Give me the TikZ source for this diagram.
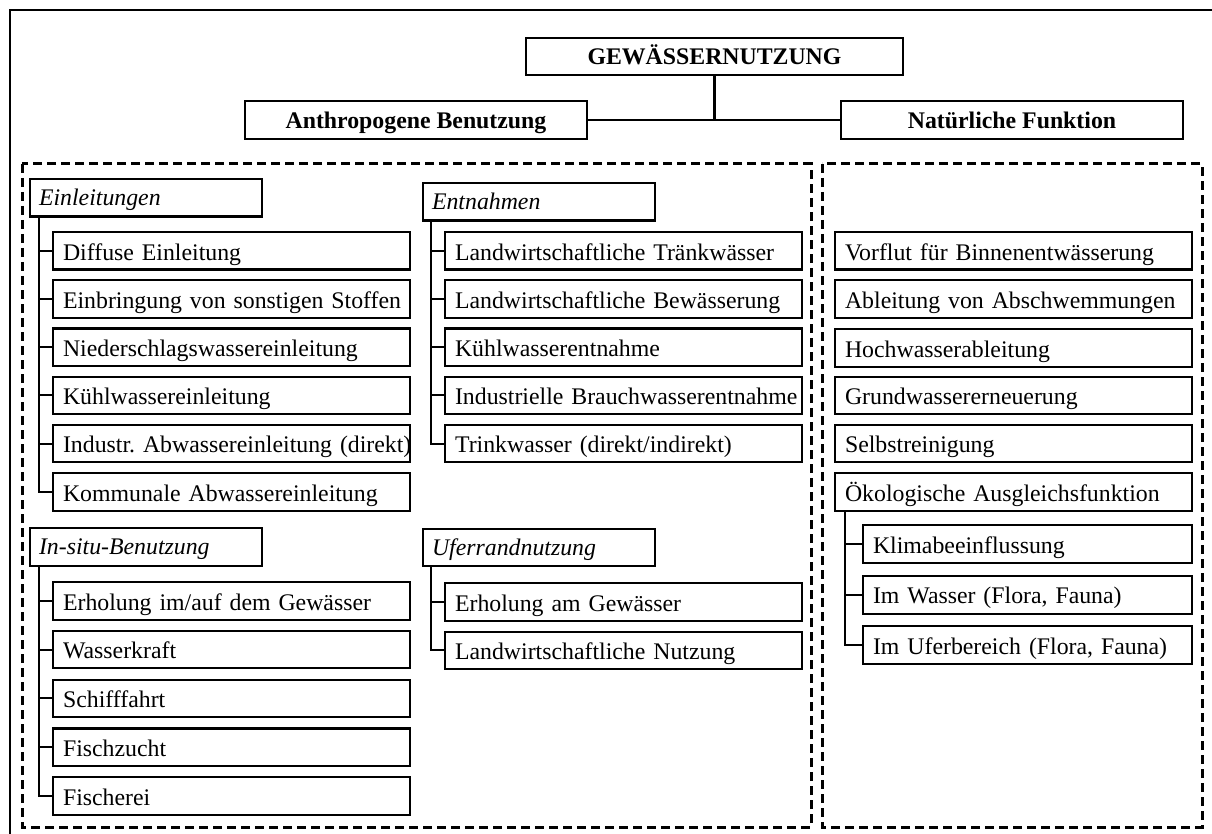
\documentclass[tikz,border=0pt]{standalone}
\usepackage{fontspec}
\setmainfont{Liberation Serif}
\frenchspacing
\begin{document}
\begin{tikzpicture}[x=1pt,y=-1pt,
  basefont/.style={font=\fontsize{23.8pt}{28pt}\selectfont},
  box/.style={draw, line width=2.1pt, anchor=north west, inner ysep=0pt,
    text depth=0pt, align=left, basefont},
  leaf/.style={box, inner xsep=10pt, minimum height=37.5pt, text height=18.5pt, text width=337pt},
  subleaf/.style={box, inner xsep=10pt, minimum height=38pt, text height=18.5pt, text width=309pt},
  grp/.style={box, inner xsep=9pt, minimum height=37.5pt, text height=16pt, text width=214pt,
    font=\fontsize{23.8pt}{28pt}\selectfont\itshape},
  head/.style={draw, line width=2.1pt, inner sep=0pt, minimum height=37.5pt,
    text height=17pt, text depth=0pt, font=\fontsize{23.8pt}{28pt}\selectfont\bfseries},
  conn/.style={line width=2.1pt},
  region/.style={line width=3pt, dash pattern=on 9pt off 5pt}]
\useasboundingbox (0,0) rectangle (1212,834);

% frame (top and left edges)
\draw[line width=2.2pt] (10,834) -- (10,10) -- (1212,10);

% dashed regions
\draw[region] (22,164) rectangle (811,827);
\draw[region] (822,164) rectangle (1202,827);

% top level
\node[head, minimum width=377pt] (root) at (714.5,56.5) {GEWÄSSERNUTZUNG};
\node[head, minimum width=342pt] (anth) at (416,120) {Anthropogene Benutzung};
\node[head, minimum width=342pt] (nat) at (1012,120) {Natürliche Funktion};
\draw[conn] (anth.east) -- (nat.west);
\draw[conn] (root.south) -- (root.south |- anth.east);

% Einleitungen
\node[grp] (ein) at (29,178) {Einleitungen};
\node[leaf] (ein1) at (52,231) {\mbox{Diffuse Einleitung}};
\node[leaf] (ein2) at (52,279.2) {\mbox{Einbringung von sonstigen Stoffen}};
\node[leaf] (ein3) at (52,327.4) {\mbox{Niederschlagswassereinleitung}};
\node[leaf] (ein4) at (52,375.6) {\mbox{Kühlwassereinleitung}};
\node[leaf] (ein5) at (52,423.8) {\mbox{Industr. Abwassereinleitung (direkt)}};
\node[leaf] (ein6) at (52,472) {\mbox{Kommunale Abwassereinleitung}};
\coordinate (einT) at ([xshift=10pt]ein.south west);
\draw[conn] (einT) |- (ein6.west);
\foreach \i in {1,...,5} \draw[conn] (ein\i.west) -- (ein\i.west -| einT);

% Entnahmen
\node[grp] (ent) at (422,182) {Entnahmen};
\node[leaf] (ent1) at (444,231) {\mbox{Landwirtschaftliche Tränkwässer}};
\node[leaf] (ent2) at (444,279.2) {\mbox{Landwirtschaftliche Bewässerung}};
\node[leaf] (ent3) at (444,327.4) {\mbox{Kühlwasserentnahme}};
\node[leaf] (ent4) at (444,375.6) {\mbox{Industrielle Brauchwasserentnahme}};
\node[leaf] (ent5) at (444,423.8) {\mbox{Trinkwasser (direkt/indirekt)}};
\coordinate (entT) at ([xshift=9pt]ent.south west);
\draw[conn] (entT) |- (ent5.west);
\foreach \i in {1,...,4} \draw[conn] (ent\i.west) -- (ent\i.west -| entT);

% In-situ-Benutzung
\node[grp] (ins) at (29,527) {In-situ-Benutzung};
\node[leaf] (ins1) at (52,581) {\mbox{Erholung im/auf dem Gewässer}};
\node[leaf] (ins2) at (52,629.8) {\mbox{Wasserkraft}};
\node[leaf] (ins3) at (52,678.6) {\mbox{Schifffahrt}};
\node[leaf] (ins4) at (52,727.4) {\mbox{Fischzucht}};
\node[leaf] (ins5) at (52,776.2) {\mbox{Fischerei}};
\coordinate (insT) at ([xshift=10pt]ins.south west);
\draw[conn] (insT) |- (ins5.west);
\foreach \i in {1,...,4} \draw[conn] (ins\i.west) -- (ins\i.west -| insT);

% Uferrandnutzung
\node[grp] (ufr) at (422,527.5) {Uferrandnutzung};
\node[leaf] (ufr1) at (444,582) {\mbox{Erholung am Gewässer}};
\node[leaf] (ufr2) at (444,630.5) {\mbox{Landwirtschaftliche Nutzung}};
\coordinate (ufrT) at ([xshift=9pt]ufr.south west);
\draw[conn] (ufrT) |- (ufr2.west);
\draw[conn] (ufr1.west) -- (ufr1.west -| ufrT);

% Natürliche Funktion
\node[leaf] (nat1) at (834,231) {\mbox{Vorflut für Binnenentwässerung}};
\node[leaf] (nat2) at (834,279.2) {\mbox{Ableitung von Abschwemmungen}};
\node[leaf] (nat3) at (834,328) {\mbox{Hochwasserableitung}};
\node[leaf] (nat4) at (834,375.6) {\mbox{Grundwassererneuerung}};
\node[leaf] (nat5) at (834,423.6) {\mbox{Selbstreinigung}};
\node[leaf] (nat6) at (834,472) {\mbox{Ökologische Ausgleichsfunktion}};
\node[subleaf] (oek1) at (862,524) {\mbox{Klimabeeinflussung}};
\node[subleaf] (oek2) at (862,574.5) {\mbox{Im Wasser (Flora, Fauna)}};
\node[subleaf] (oek3) at (862,625) {\mbox{Im Uferbereich (Flora, Fauna)}};
\coordinate (oekT) at ([xshift=11pt]nat6.south west);
\draw[conn] (oekT) |- (oek3.west);
\foreach \i in {1,2} \draw[conn] (oek\i.west) -- (oek\i.west -| oekT);
\end{tikzpicture}
\end{document}
